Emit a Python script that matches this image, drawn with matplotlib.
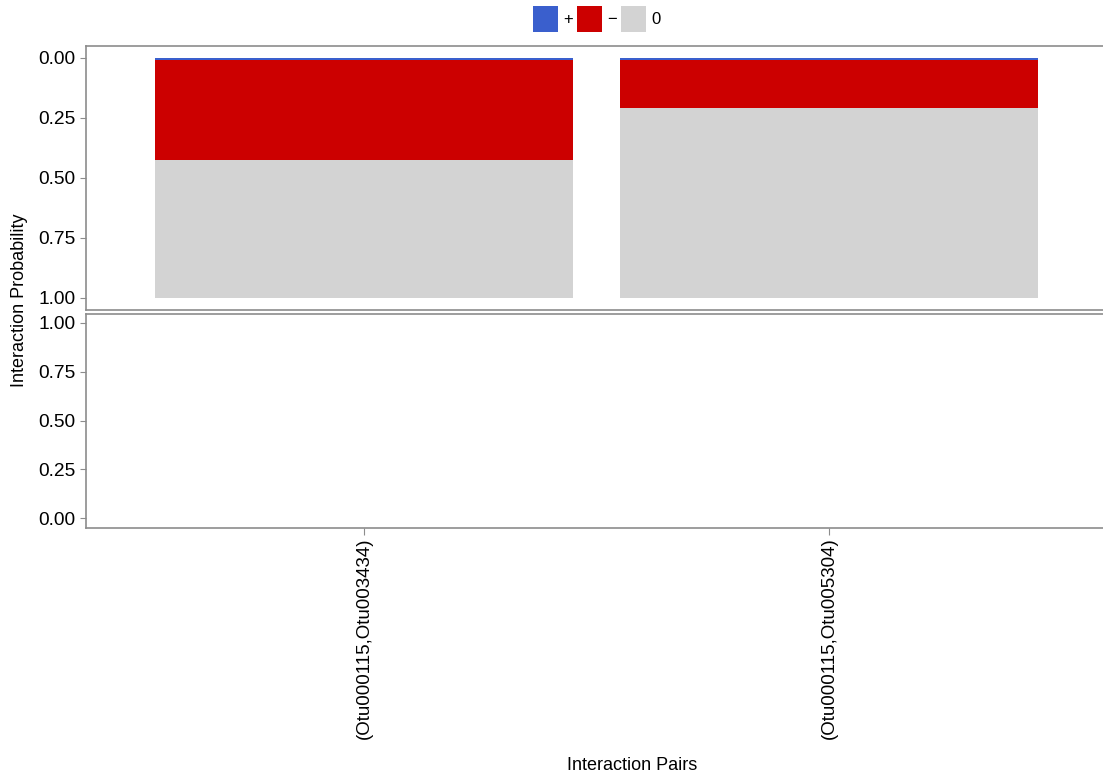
import matplotlib
matplotlib.use("Agg")
import matplotlib.pyplot as plt
from matplotlib.patches import Patch

PAIRS = ['(Otu000115,Otu003434)', '(Otu000115,Otu005304)']
PLUS = [0.01, 0.01]
MINUS = [0.415, 0.20]
ZERO = [0.575, 0.79]

COLORS = {'+': '#3a5fcd', '-': '#cc0000', '0': '#d3d3d3'}
SPINE = '#8c8c8c'

W, H = 1103, 783


def style(ax):
    for side in ('top', 'left', 'bottom'):
        ax.spines[side].set_color(SPINE)
        ax.spines[side].set_linewidth(1.2)
    ax.spines['right'].set_visible(False)
    ax.tick_params(axis='y', colors=SPINE, labelcolor='black', length=4,
                   labelsize=13.8)
    ax.set_xlim(-0.598, 1.589)


def main():
    plt.rcParams['font.family'] = ['Liberation Sans', 'DejaVu Sans']
    fig = plt.figure(figsize=(W / 100, H / 100), dpi=100)

    ax1 = fig.add_axes([86 / W, 1 - 310 / H, (W - 86) / W, (310 - 46) / H])
    ax2 = fig.add_axes([86 / W, 1 - 528 / H, (W - 86) / W, (528 - 314) / H])

    x = list(range(len(PAIRS)))
    bottom_minus = PLUS
    bottom_zero = [p + m for p, m in zip(PLUS, MINUS)]
    ax1.bar(x, PLUS, width=0.9, color=COLORS['+'], linewidth=0)
    ax1.bar(x, MINUS, bottom=bottom_minus, width=0.9, color=COLORS['-'], linewidth=0)
    ax1.bar(x, ZERO, bottom=bottom_zero, width=0.9, color=COLORS['0'], linewidth=0)

    ax1.set_ylim(1.05, -0.05)
    ax1.set_yticks([0, 0.25, 0.5, 0.75, 1.0])
    ax1.set_yticklabels(['0.00', '0.25', '0.50', '0.75', '1.00'])
    ax1.set_xticks([])
    style(ax1)

    ax2.set_ylim(-0.05, 1.046)
    ax2.set_yticks([0, 0.25, 0.5, 0.75, 1.0])
    ax2.set_yticklabels(['0.00', '0.25', '0.50', '0.75', '1.00'])
    ax2.set_xticks(x)
    ax2.set_xticklabels(PAIRS, rotation=90, fontsize=13.5)
    ax2.tick_params(axis='x', colors=SPINE, labelcolor='black', length=5, pad=2)
    style(ax2)

    fig.text(20 / W, 1 - 300 / H, 'Interaction Probability', rotation=90,
             ha='center', va='center', fontsize=13)
    fig.text(632 / W, 1 - 766 / H, 'Interaction Pairs', ha='center', va='center',
             fontsize=13)

    handles = [Patch(facecolor=COLORS[k], edgecolor='none') for k in ('+', '-', '0')]
    fig.legend(handles, ['+', '\u2212', '0'], loc='center', ncol=3,
               bbox_to_anchor=(597 / W, 1 - 19 / H), frameon=False,
               fontsize=12, handlelength=1.5, handleheight=2.0,
               handletextpad=0.3, columnspacing=0.25, borderpad=0)

    fig.savefig('out.png', dpi=100)


if __name__ == '__main__':
    main()
